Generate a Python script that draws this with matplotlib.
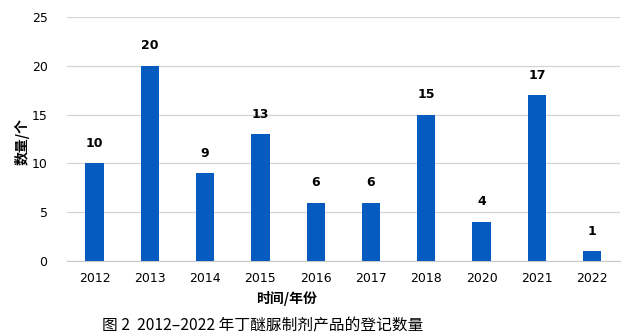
import matplotlib.pyplot as plt
import numpy as np

plt.rcParams['font.family'] = ['Noto Sans CJK SC', 'DejaVu Sans']

years = ['2012', '2013', '2014', '2015', '2016', '2017', '2018', '2020', '2021', '2022']
counts = [10, 20, 9, 13, 6, 6, 15, 4, 17, 1]

fig = plt.figure(figsize=(6.26, 3.36), dpi=100)
ax = fig.add_axes([0.107, 0.223, 0.883, 0.726])

x = np.arange(len(years))
bars = ax.bar(x, counts, width=0.33, color='#055bbf', zorder=3)
for xi, v in zip(x, counts):
    ax.text(xi, v + 1.4, str(v), ha='center', va='bottom', fontsize=9,
            fontweight='bold', family='DejaVu Sans')

ax.set_xlim(-0.5, len(years) - 0.5)
ax.set_ylim(0, 25)
ax.set_yticks(range(0, 26, 5))
ax.set_xticks(x)
ax.set_xticklabels(years)
ax.tick_params(axis='both', length=0, labelsize=9, colors='black')
ax.tick_params(axis='x', pad=8)
ax.tick_params(axis='y', pad=14)
for lab in ax.get_xticklabels() + ax.get_yticklabels():
    lab.set_family('DejaVu Sans')
ax.grid(axis='y', color='#d4d4d4', linewidth=0.9, zorder=0)
for s in ['top', 'right', 'left']:
    ax.spines[s].set_visible(False)
ax.spines['bottom'].set_color('#c8c8c8')

fig.text(0.035, 0.58, '数量/个', rotation=90, ha='center', va='center',
         fontsize=10, fontweight='bold')
fig.text(0.457, 0.113, '时间/年份', ha='center', va='center',
         fontsize=10, fontweight='bold')
fig.text(0.42, 0.03, '图 2  2012–2022 年丁醚脲制剂产品的登记数量', ha='center',
         va='center', fontsize=11.3)

fig.savefig('out.png', dpi=100)
